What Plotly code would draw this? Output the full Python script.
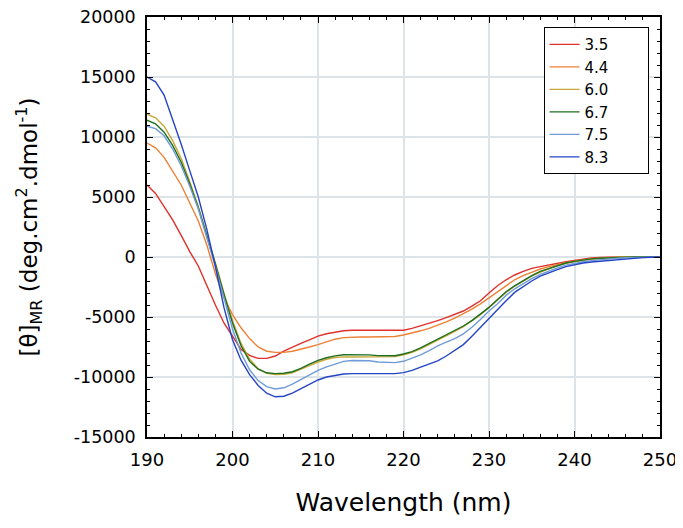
import plotly.graph_objects as go

wavelength = list(range(190, 251))

ph_labels = ["3.5", "4.4", "6.0", "6.7", "7.5", "8.3"]
colors = ["#e0302a", "#ee8034", "#c9a83a", "#1e6e1e", "#6f9bd8", "#2444c4"]

ph_3_5 = [6000, 5300, 4200, 3100, 1800, 450, -750, -2400, -4000, -5500,
          -6600, -7700, -8200, -8450, -8450, -8250, -7850, -7500, -7200, -6900,
          -6600, -6400, -6250, -6150, -6100, -6100, -6100, -6100, -6100, -6100,
          -6100, -5950, -5750, -5550, -5300, -5050, -4800, -4500, -4100, -3650,
          -3000, -2400, -1900, -1500, -1200, -950, -800, -650, -550, -400,
          -280, -150, -80, -40, -10, 50, 20, 0, 0, 0, 0]
ph_4_4 = [9500, 9100, 8300, 7200, 6000, 4500, 3000, 1000, -1400, -3400,
          -4800, -5900, -6800, -7500, -7850, -7950, -7950, -7850, -7700, -7500,
          -7300, -7050, -6850, -6720, -6680, -6670, -6670, -6670, -6670, -6620,
          -6500, -6350, -6150, -5950, -5700, -5400, -5100, -4750, -4350, -3900,
          -3400, -2900, -2350, -1900, -1550, -1250, -1000, -800, -620, -480,
          -350, -240, -160, -100, -50, -20, 0, 0, 0, 0, 0]
ph_6_0 = [11900, 11600, 10900, 9700, 8200, 6300, 4200, 1900, -500, -3000,
          -5300, -7200, -8500, -9300, -9700, -9800, -9780, -9650, -9380, -9050,
          -8750, -8520, -8380, -8320, -8330, -8330, -8340, -8350, -8350, -8300,
          -8150, -7950, -7650, -7300, -6950, -6600, -6200, -5800, -5330, -4800,
          -4200, -3580, -2950, -2430, -1980, -1600, -1250, -970, -720, -520,
          -380, -260, -170, -100, -50, -10, 20, 0, 0, 0, 0]
ph_6_7 = [11400, 11100, 10400, 9300, 7900, 6100, 4100, 1800, -600, -3100,
          -5500, -7400, -8700, -9350, -9650, -9720, -9690, -9560, -9280, -8930,
          -8620, -8400, -8240, -8150, -8140, -8140, -8160, -8220, -8250, -8230,
          -8080, -7880, -7580, -7220, -6850, -6500, -6150, -5750, -5300, -4750,
          -4200, -3550, -2900, -2400, -1950, -1550, -1200, -950, -700, -500,
          -360, -250, -160, -100, -60, -20, 0, 0, 0, 0, 0]
ph_7_5 = [10900, 10700, 10100, 9000, 7600, 5900, 4000, 1700, -800, -3400,
          -6000, -8000, -9400, -10300, -10800, -11000, -10900, -10600, -10200, -9800,
          -9450, -9150, -8900, -8700, -8620, -8610, -8650, -8750, -8800, -8800,
          -8690, -8450, -8150, -7800, -7400, -7100, -6800, -6400, -5850, -5200,
          -4500, -3900, -3200, -2650, -2200, -1800, -1450, -1150, -900, -680,
          -520, -400, -300, -220, -150, -100, -60, -30, -10, 0, 0]
ph_8_3 = [15000, 14600, 13500, 11500, 9400, 7200, 5000, 2300, -800, -4200,
          -6900, -8600, -9800, -10700, -11350, -11650, -11600, -11350, -11000, -10600,
          -10250, -10000, -9850, -9750, -9720, -9720, -9720, -9720, -9780, -9720,
          -9640, -9450, -9170, -8900, -8650, -8250, -7800, -7300, -6600, -5850,
          -5100, -4350, -3650, -2950, -2450, -2000, -1600, -1300, -1050, -800,
          -650, -500, -420, -350, -280, -200, -130, -80, -50, -20, 0]

series = [ph_3_5, ph_4_4, ph_6_0, ph_6_7, ph_7_5, ph_8_3]

x_ticks = [190, 200, 210, 220, 230, 240, 250]
y_ticks = [-15000, -10000, -5000, 0, 5000, 10000, 15000, 20000]
y_tick_text = ["-15000", "-10000", "-5000", "0", "5000", "10000", "15000", "20000"]

fig = go.Figure()
pad = "\u00a0" * 7
for name, vals, col in zip(ph_labels, series, colors):
    fig.add_trace(go.Scatter(x=wavelength, y=vals, mode="lines", name=name + pad,
                             line=dict(color=col, width=1.4)))

font_family = "DejaVu Sans"
# the page body has an 8px margin, so the figure is sized to fit the window
fig.update_layout(
    width=675, height=520,
    margin=dict(l=139, r=23, t=9, b=91),
    paper_bgcolor="white", plot_bgcolor="white",
    font=dict(family=font_family, color="black"),
    showlegend=True,
    legend=dict(x=0.773, y=0.976, xanchor="left", yanchor="top",
                bgcolor="white", bordercolor="black", borderwidth=1,
                font=dict(size=15, family=font_family),
                tracegroupgap=0),
)
fig.update_xaxes(
    range=[190, 250], tickvals=x_ticks, ticktext=[str(v) for v in x_ticks],
    automargin=False, ticklabeloverflow="allow",
    showline=True, linecolor="black", linewidth=1.5, mirror="ticks",
    ticks="inside", ticklen=6, tickwidth=1.2, tickcolor="black",
    showgrid=True, gridcolor="#dde3e6", gridwidth=1.5, zeroline=False,
    tickfont=dict(size=18, family=font_family), ticklabelstandoff=6,
    minor=dict(dtick=2, ticks="inside", ticklen=3, tickcolor="black", showgrid=False),
    title=dict(text="Wavelength (nm)", font=dict(size=25, family=font_family), standoff=24),
)
fig.update_yaxes(
    range=[-15000, 20000], tickvals=y_ticks, ticktext=y_tick_text,
    automargin=False, ticklabeloverflow="allow",
    showline=True, linecolor="black", linewidth=1.5, mirror="ticks",
    ticks="inside", ticklen=6, tickwidth=1.2, tickcolor="black",
    showgrid=True, gridcolor="#dde3e6", gridwidth=1.5, zeroline=False,
    tickfont=dict(size=17.5, family=font_family), ticklabelstandoff=6,
    minor=dict(dtick=1000, tick0=0, ticks="inside", ticklen=3, tickcolor="black", showgrid=False),
    title=dict(text="[θ]<sub>MR</sub> (deg.cm<sup>2</sup>.dmol<sup>-1</sup>)",
               font=dict(size=23, family=font_family), standoff=30),
)

fig.write_html("out.html")
